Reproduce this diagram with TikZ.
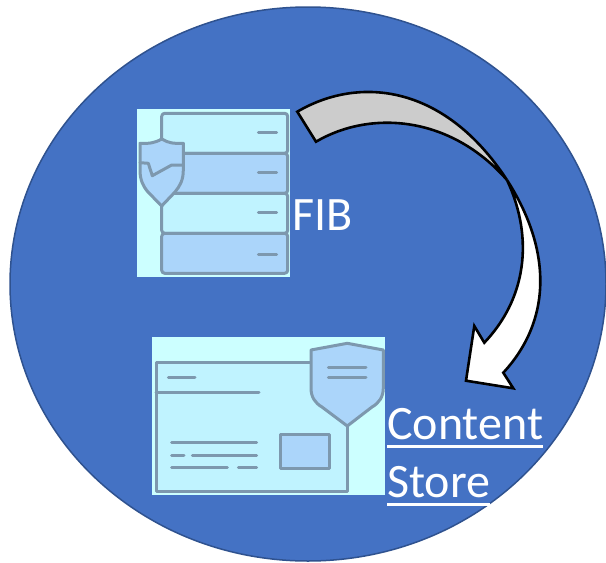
\documentclass[tikz,border=0pt]{standalone}
\usepackage{fontspec}
\setmainfont{Carlito}
\usetikzlibrary{arrows,positioning,shapes.geometric}
\definecolor{discblue}{HTML}{4472C4}
\definecolor{discedge}{HTML}{2F528F}
\definecolor{iconback}{HTML}{CCFFFF}
\definecolor{iconlight}{HTML}{C0F3FF}
\definecolor{iconblue}{HTML}{ABD5FA}
\definecolor{iconline}{HTML}{7D98AE}
\newcommand{\ulword}[1]{\setbox0\hbox{#1}\rlap{\rule[-8.4pt]{\wd0}{2.8pt}}\box0}
\tikzset{
    %Define style for the icon backgrounds
    iconbox/.style={
           rectangle,
           draw=none,
           inner sep=0pt,
           fill=iconback},
    %Define style for icon parts
    part/.style={
           draw=iconline,
           line width=3pt,
           line join=round,
           line cap=round},
    row/.style={
           part,
           rounded corners=3pt},
    % Define arrow style
    pil/.style={
           draw=black,
           line width=2.6pt,
           line join=miter},
    word/.style={
           text=white,
           inner sep=0pt,
           anchor=base west,
           font=\fontsize{48}{48}\selectfont}
}
\begin{document}
\begin{tikzpicture}[x=1pt,y=-1pt]
\useasboundingbox (0,0) rectangle (606,563);
\node[ellipse,draw=discedge,fill=discblue,line width=1.5pt,inner sep=0pt,
      minimum width=596pt,minimum height=554pt](disc) at (308,284){};
% FIB icon
\node[iconbox,minimum width=153pt,minimum height=168pt](fibicon) at (213.5,193){};
\draw[row,fill=iconlight] (161.7,113.3) rectangle (287.7,153.3);
\draw[row,fill=iconblue] (161.7,153.3) rectangle (287.7,193.3);
\draw[row,fill=iconlight] (161.7,193.3) rectangle (287.7,233.3);
\draw[row,fill=iconblue] (161.7,233.3) rectangle (287.7,273.3);
\foreach \y in {132.3,172,212.7,254.7}
    \draw[part] (258.3,\y) -- (276.7,\y);
\draw[part,fill=iconblue] (161.7,139) .. controls (155,143) and (148,144) .. (140,143.3)
    -- (140,170) .. controls (140,180) and (143,186) .. (148,192) -- (161.7,206)
    -- (175,192) .. controls (180,186) and (183.3,180) .. (183.3,170)
    -- (183.3,143.3) .. controls (175,144) and (168,143) .. (161.7,139) -- cycle;
\draw[part] (140,162.7) -- (148.3,163.3) -- (152.3,175.7) -- (171.7,165) -- (183.3,165);
\node[word](fib) at (292,230){FIB};
% content store icon
\node[iconbox,minimum width=233pt,minimum height=158pt](storeicon) at (268.5,416){};
\draw[part,fill=iconlight] (156,362.7) rectangle (347.3,491.7);
\draw[part] (168.3,377.3) -- (195,377.3);
\draw[part] (156,392.3) -- (259,392.3);
\draw[part] (171.7,442.3) -- (256.7,442.3);
\draw[part] (171.7,455) -- (184,455);
\draw[part] (192.3,455) -- (256.7,455);
\draw[part] (171.7,467.7) -- (227.3,467.7);
\draw[part] (238.3,467.7) -- (256.7,467.7);
\draw[part,fill=iconblue] (280,434.3) rectangle (329,468.3);
\draw[part,fill=iconblue] (347.3,343.3) -- (311,350) -- (311,388)
    .. controls (311,397) and (315,403) .. (322,407) -- (347.3,426)
    -- (372,407) .. controls (379,403) and (383.3,397) .. (383.3,388)
    -- (383.3,350) -- cycle;
\draw[part] (328.3,367.7) -- (366,367.7);
\draw[part] (328.3,377.3) -- (366,377.3);
\node[word](content) at (387,439.5){\ulword{Content}};
\node[word](store) at (387,497.5){\ulword{Store}};
% curved arrow
\draw[pil,fill=white] (507,180) .. controls (552,250) and (552,320) .. (503.3,372.7)
    -- (513.3,388.3) -- (466,380.7) -- (474.3,326) -- (484.3,342.7)
    .. controls (525,300) and (535,240) .. (507,180) -- cycle;
\draw[pil,fill=black!20!white] (297.3,111.7) .. controls (360,75) and (445,85) .. (507,180)
    .. controls (450,115) and (370,110) .. (316,141.7) -- cycle;
\end{tikzpicture}
\end{document}
